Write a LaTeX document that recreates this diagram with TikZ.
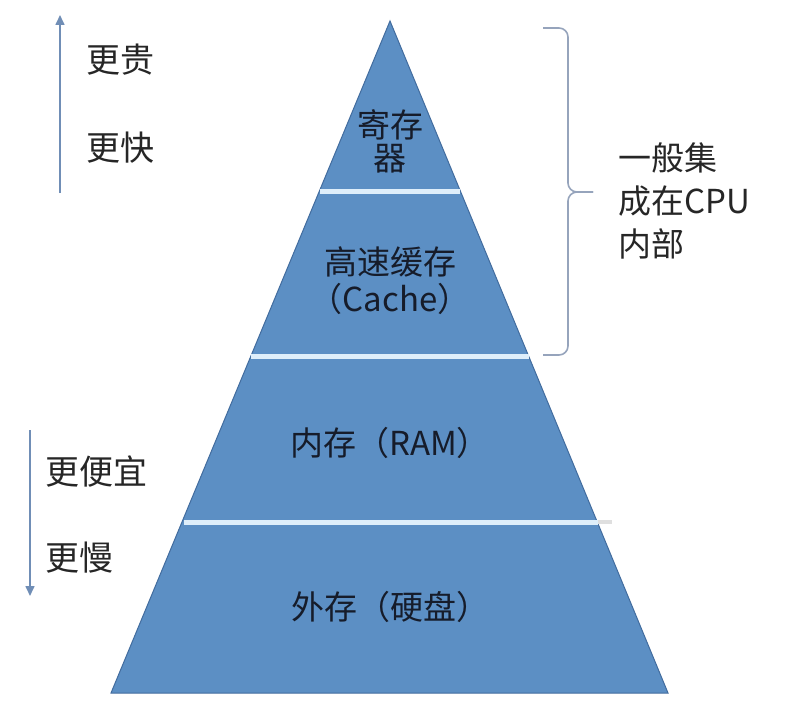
\documentclass[tikz,border=0pt]{standalone}
\usepackage{fontspec}
\setmainfont{Noto Sans CJK SC}
\usetikzlibrary{arrows.meta,calc,positioning}

\definecolor{pyrblue}{RGB}{92,143,196}
\definecolor{pyredge}{RGB}{66,108,158}
\definecolor{seplight}{RGB}{222,238,250}
\definecolor{arrowblue}{RGB}{112,142,182}
\definecolor{bracegrey}{RGB}{150,164,188}
\definecolor{inktext}{RGB}{22,28,42}

\begin{document}
\begin{tikzpicture}[x=1pt,y=-1pt,
    bandtext/.style={text=inktext,font=\fontsize{33}{38}\selectfont,inner sep=0pt},
    sidetext/.style={text=black!85,font=\fontsize{34}{40}\selectfont,inner sep=0pt,anchor=west},
    sepline/.style={draw=seplight,line width=5pt},
    scalearrow/.style={draw=arrowblue,line width=1.6pt,-{Triangle[width=9pt,length=10pt]}},
    cpubrace/.style={draw=bracegrey,line width=1.6pt,rounded corners=9pt}]
    \useasboundingbox (0,0) rectangle (795,709);
    % Pyramid
    \coordinate (apex) at (390,21);
    \coordinate (baseL) at (111,693);
    \coordinate (baseR) at (668,693);
    \fill[pyrblue,draw=pyredge,line width=1pt] (apex) -- (baseR) -- (baseL) -- cycle;
    \draw[sepline] (320,191) -- (460,191);
    \draw[sepline] (251,356) -- (529,356);
    \draw[sepline] (184,522) -- (598,522);
    \draw[gray!25,line width=4pt] (598,522) -- (612,522);
    % Levels
    \node[bandtext] (reg1) at (390,125) {寄存};
    \node[bandtext,below=4pt of reg1] (reg2) {器};
    \node[bandtext] (cache1) at (390,262) {高速缓存};
    \node[bandtext,below=6pt of cache1] (cache2) {（Cache）};
    \node[bandtext] (ram) at (390,443) {内存（RAM）};
    \node[bandtext] (disk) at (390,607) {外存（硬盘）};
    % Cost / speed scale
    \coordinate (upBot) at (60,193);
    \coordinate (upTop) at (60,15);
    \draw[scalearrow] (upBot) -- (upTop);
    \node[sidetext] (pricier) at (86,60) {更贵};
    \node[sidetext] (faster) at (86,148) {更快};
    \coordinate (downTop) at (30,430);
    \coordinate (downBot) at (30,596);
    \draw[scalearrow] (downTop) -- (downBot);
    \node[sidetext] (cheaper) at (45,472) {更便宜};
    \node[sidetext] (slower) at (45,558) {更慢};
    % Brace
    \coordinate (braceTop) at (543,28);
    \coordinate (braceBot) at (543,355);
    \coordinate (braceTip) at (593,192);
    \draw[cpubrace] (braceTop) -| ($(braceTip)+(-25,0)$) -- (braceTip);
    \draw[cpubrace] (braceBot) -| ($(braceTip)+(-25,0)$) -- (braceTip);
    \node[sidetext,align=left,font=\fontsize{33}{43}\selectfont] (incpu) at (618,201)
        {一般集\\成在CPU\\内部};
\end{tikzpicture}
\end{document}
